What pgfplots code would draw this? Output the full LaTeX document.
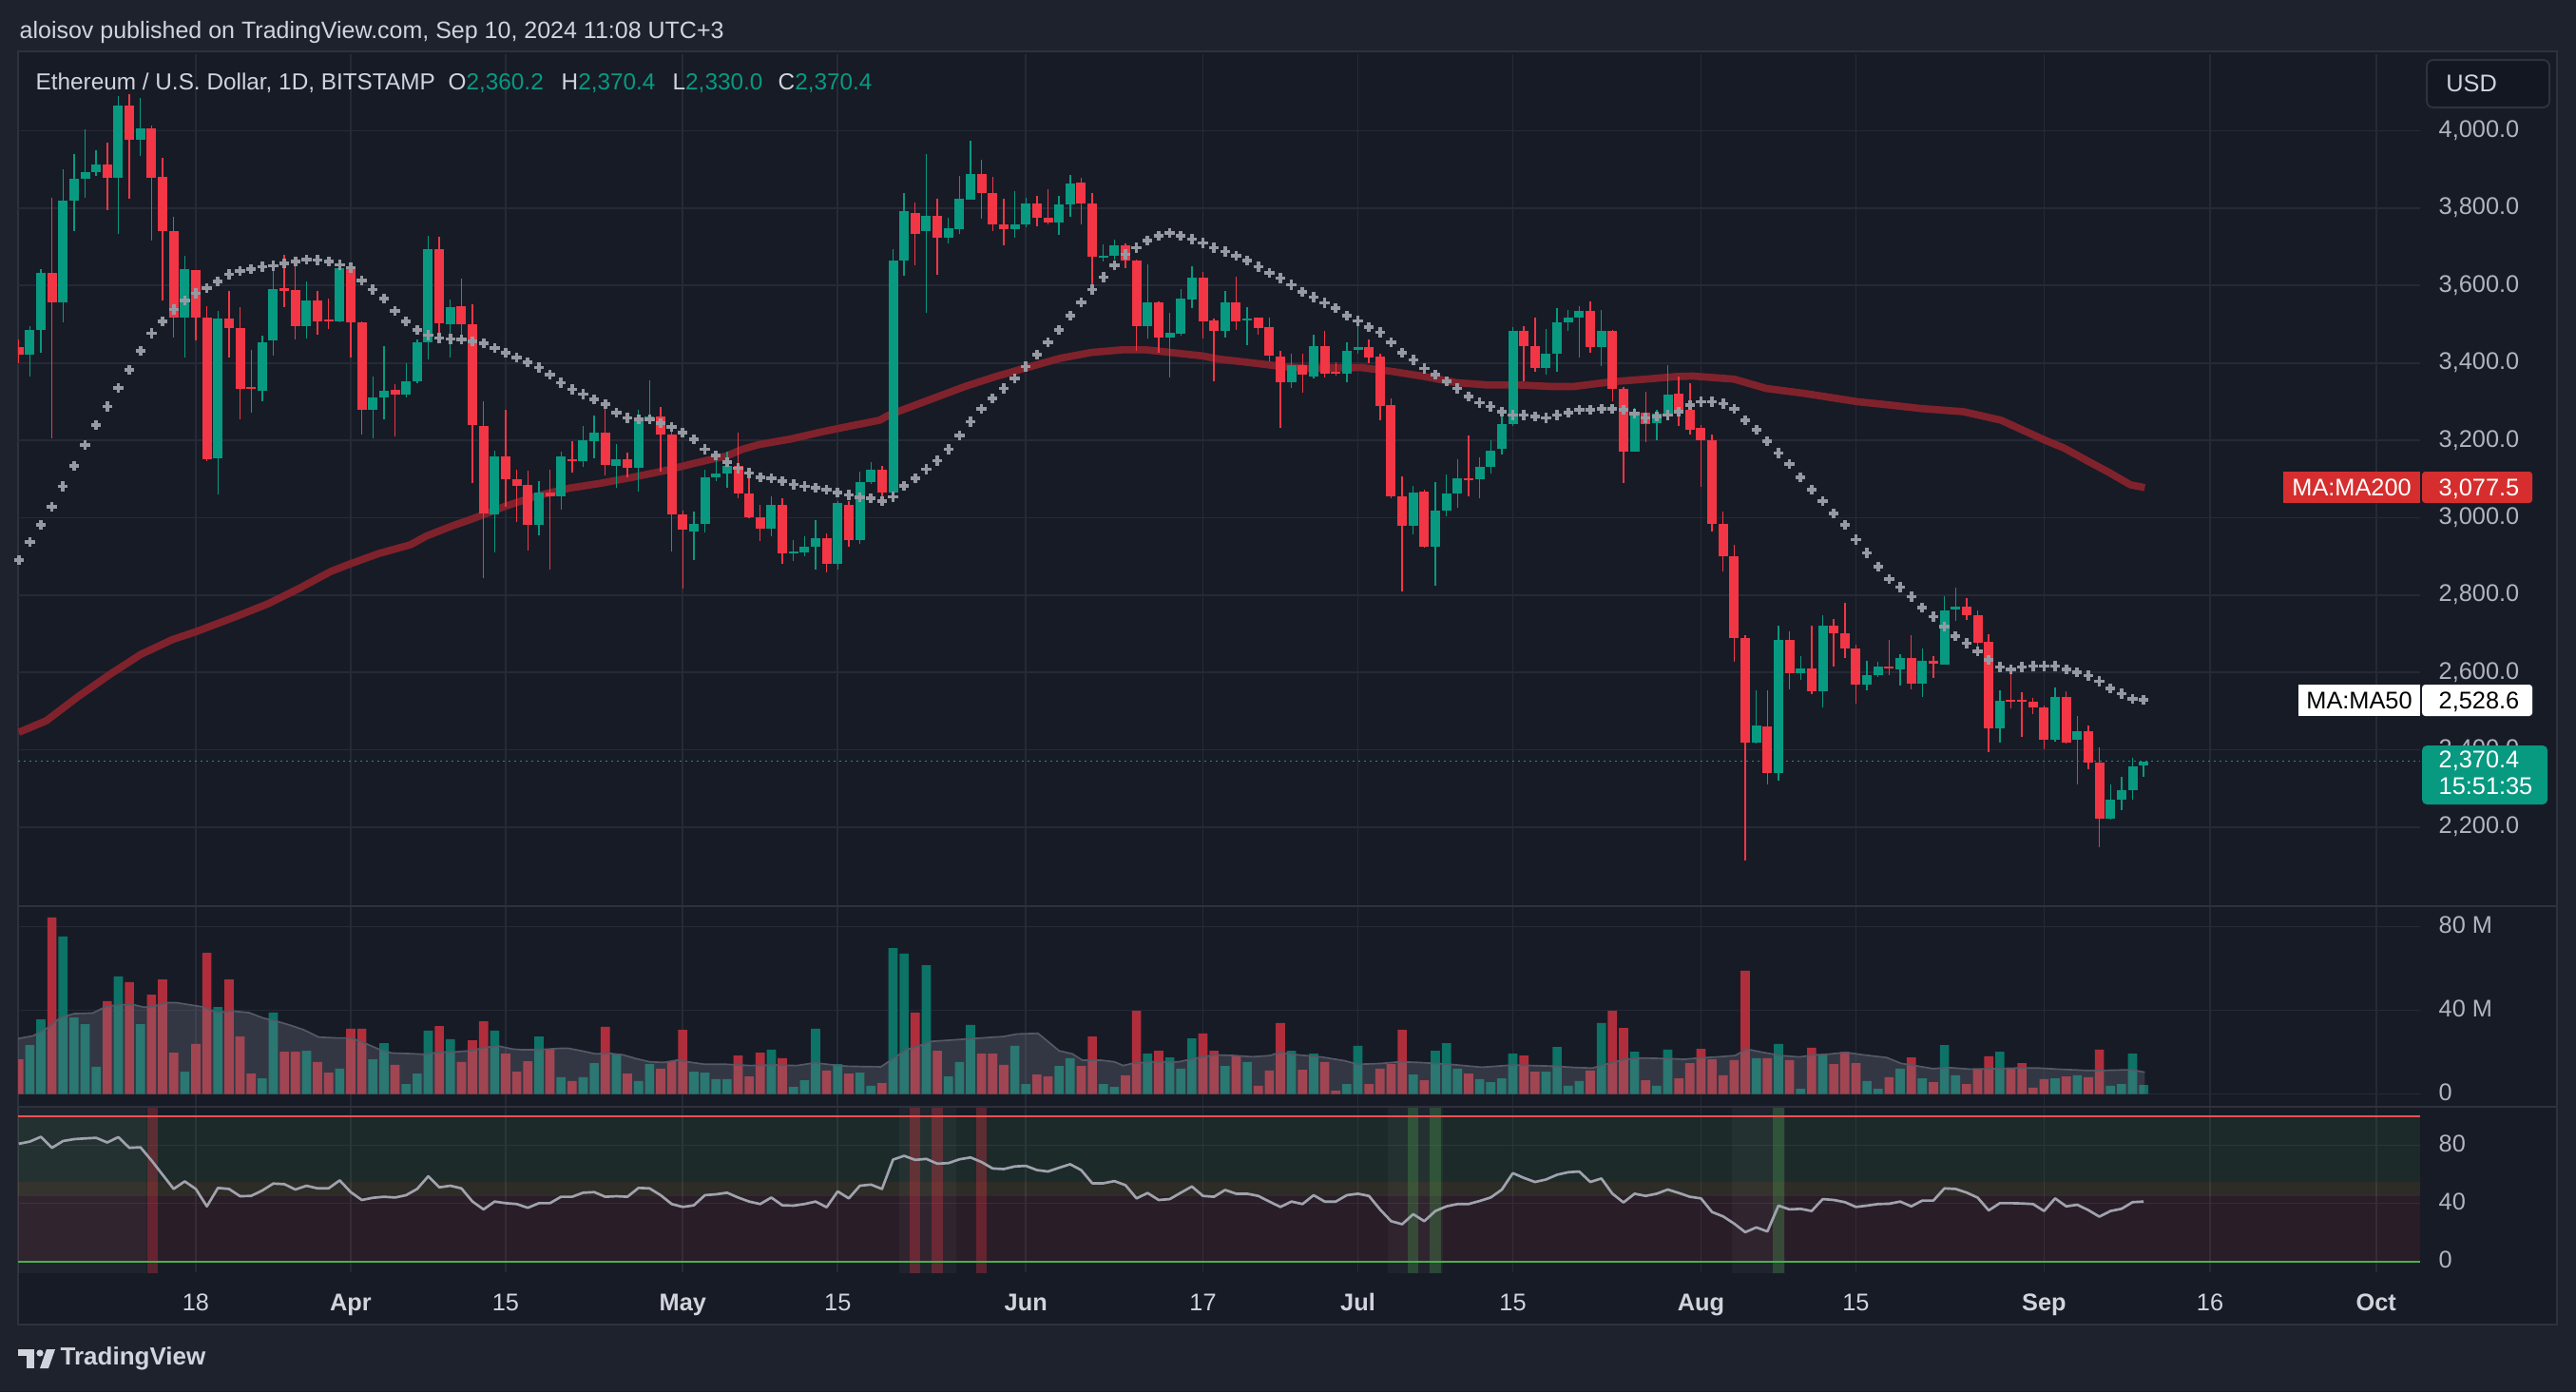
\documentclass[border=0pt]{standalone}
\usepackage{fontspec}
\setmainfont{Liberation Sans}
\usepackage{pgfplots}
\pgfplotsset{compat=1.18}
\usepackage{pgfplotstable}

\definecolor{bgout}{RGB}{30,34,45}
\definecolor{bgin}{RGB}{23,27,38}
\definecolor{bgdark}{RGB}{19,23,34}
\definecolor{gridc}{RGB}{38,42,54}
\definecolor{sepc}{RGB}{46,50,62}
\definecolor{tvgreen}{RGB}{8,153,129}
\definecolor{tvred}{RGB}{242,54,69}
\definecolor{volg}{RGB}{12,115,102}
\definecolor{volr}{RGB}{176,46,60}
\definecolor{ma50c}{RGB}{150,153,162}
\definecolor{ma200c}{RGB}{128,34,44}
\definecolor{ma200lab}{RGB}{214,46,46}
\definecolor{labc}{RGB}{178,181,190}
\definecolor{txtc}{RGB}{209,212,220}
\definecolor{rsig}{RGB}{76,175,80}
\definecolor{rsiy}{RGB}{255,200,40}
\definecolor{rsitop}{RGB}{242,80,80}
\definecolor{rsiline}{RGB}{160,163,173}
\definecolor{volmac}{RGB}{125,130,145}
\definecolor{volmaline}{RGB}{85,89,102}

\newcommand\tvfont{\fontsize{7.6pt}{9pt}\selectfont}
\newcommand\hfont{\fontsize{7.5pt}{9pt}\selectfont}
\newcommand\lfont{\fontsize{7.3pt}{9pt}\selectfont}

% green candles: day index (0 = 18 Mar 2024), open, high, low, close, volume (M)
\pgfplotstableread{
d o h l c v
-15 3421 3495 3365 3486 23.4
-14 3485 3642 3427 3632 35.7
-12 3557 3900 3505 3820 75.3
-11 3820 3939 3740 3876 36.6
-10 3875 4003 3828 3893 33.4
-9 3893 3950 3883 3913 13.0
-7 3879 4091 3733 4065 56.2
-5 3978 4085 3935 4006 33.4
-1 3518 3677 3413 3642 10.7
2 3154 3534 3060 3514 41.6
6 3327 3470 3302 3453 7.5
7 3457 3662 3418 3591 38.9
10 3496 3610 3464 3561 20.7
13 3507 3655 3505 3646 12.1
16 3278 3366 3206 3310 16.6
17 3310 3444 3253 3327 24.3
19 3319 3399 3310 3352 4.8
20 3352 3460 3347 3453 9.8
21 3453 3729 3410 3694 30.3
23 3501 3564 3414 3544 26.2
27 3008 3174 2909 3158 30.3
31 2981 3095 2955 3065 27.5
33 3056 3170 3020 3158 8.0
35 3147 3236 3131 3200 8.0
36 3198 3263 3154 3219 14.8
38 3134 3190 3076 3151 19.3
40 3128 3278 3068 3252 6.2
41 3253 3354 3242 3261 14.3
45 2965 3015 2891 2985 10.7
46 2985 3125 2961 3104 10.2
47 3104 3167 3095 3115 7.1
48 3115 3170 3076 3134 7.1
52 2972 3056 2952 3034 21.2
54 2907 2943 2887 2912 3.4
55 2909 2951 2900 2926 6.6
56 2926 2994 2865 2948 31.2
58 2881 3042 2865 3037 14.3
60 2943 3118 2933 3092 10.2
61 3092 3144 3086 3124 3.9
63 3065 3693 3047 3664 69.8
64 3664 3840 3625 3792 67.1
66 3740 3941 3529 3781 61.6
68 3724 3775 3710 3749 8.4
69 3746 3883 3733 3824 15.3
70 3822 3974 3822 3889 33.0
74 3746 3844 3723 3757 23.0
75 3757 3828 3750 3811 4.8
78 3763 3831 3731 3809 13.4
79 3809 3887 3779 3863 17.1
82 3671 3707 3662 3677 4.8
83 3677 3720 3668 3704 3.4
86 3496 3655 3464 3557 19.3
88 3466 3529 3362 3479 17.5
89 3475 3590 3470 3567 12.1
90 3564 3649 3541 3620 26.6
93 3482 3586 3466 3557 13.4
95 3510 3544 3447 3514 15.3
99 3349 3425 3336 3395 20.7
101 3366 3473 3360 3444 19.3
104 3371 3453 3349 3430 4.8
105 3434 3514 3425 3440 23.0
110 2978 3081 2956 3065 9.3
112 2926 3091 2825 3017 20.7
113 3017 3111 3004 3063 24.3
114 3063 3151 3026 3102 12.1
116 3099 3157 3050 3132 7.1
117 3132 3200 3115 3174 5.7
118 3177 3269 3164 3242 7.5
119 3242 3492 3236 3483 19.3
122 3386 3488 3369 3423 10.7
123 3423 3541 3378 3505 22.5
124 3505 3538 3482 3516 3.9
125 3518 3547 3414 3534 6.2
127 3440 3538 3392 3482 33.9
130 3171 3284 3170 3271 20.2
132 3245 3280 3200 3269 3.9
133 3269 3395 3252 3317 21.2
141 2419 2553 2416 2462 17.1
143 2341 2722 2321 2685 23.9
145 2597 2643 2581 2610 2.5
147 2551 2748 2510 2722 18.9
151 2568 2630 2553 2592 6.2
152 2592 2627 2588 2614 2.5
154 2608 2646 2566 2637 12.1
156 2571 2663 2536 2630 7.5
158 2620 2796 2620 2761 23.4
159 2763 2819 2734 2770 8.9
163 2455 2553 2419 2527 20.2
168 2425 2562 2422 2536 7.5
170 2425 2488 2311 2447 8.9
173 2221 2311 2220 2272 3.9
174 2272 2331 2243 2295 4.8
175 2295 2380 2272 2357 19.3
176 2360.2 2370.4 2330.0 2370.4 4.3
}\greentab

% red candles
\pgfplotstableread{
d o h l c v
-16 3440 3460 3400 3421 16.6
-13 3632 3827 3206 3557 84.4
-8 3913 3970 3796 3879 44.4
-6 4065 4095 3824 3978 53.5
-4 4006 4013 3717 3879 47.5
-3 3880 3931 3561 3742 54.8
-2 3742 3779 3466 3518 19.8
0 3639 3640 3457 3518 23.9
1 3518 3547 3147 3151 67.5
3 3515 3586 3413 3491 54.8
4 3491 3544 3253 3334 27.5
5 3339 3434 3271 3334 9.8
8 3593 3680 3544 3586 20.2
9 3588 3664 3460 3496 20.2
11 3561 3586 3473 3508 15.3
12 3512 3567 3488 3508 10.2
14 3645 3653 3414 3505 31.2
15 3505 3508 3214 3278 31.2
18 3330 3344 3211 3319 13.9
22 3694 3727 3453 3503 32.5
24 3547 3619 3473 3501 15.3
25 3501 3551 3089 3239 25.7
26 3236 3301 2844 3011 34.8
28 3158 3278 3028 3099 19.3
29 3099 3125 2989 3082 10.7
30 3085 3121 2916 2981 15.7
32 3065 3125 2865 3056 21.6
34 3151 3197 3116 3147 6.2
37 3219 3291 3108 3137 32.1
39 3151 3167 3104 3128 9.8
42 3261 3287 3118 3215 12.1
43 3216 3248 2913 3008 15.7
44 3008 3017 2816 2969 30.7
49 3134 3219 3050 3063 18.4
50 3063 3128 2998 3002 8.4
51 3002 3034 2939 2972 19.8
53 3034 3050 2881 2907 17.1
57 2948 2959 2859 2881 11.2
59 3033 3042 2926 2943 9.8
62 3124 3134 3052 3065 5.2
65 3788 3814 3652 3733 38.9
67 3781 3824 3629 3724 20.7
71 3889 3926 3772 3840 19.3
72 3840 3880 3742 3759 19.3
73 3759 3824 3703 3746 13.9
76 3811 3833 3753 3776 9.3
77 3776 3848 3759 3763 8.4
80 3866 3879 3759 3811 13.4
81 3811 3840 3583 3675 27.5
84 3704 3710 3646 3664 8.9
85 3664 3668 3430 3496 39.8
87 3557 3560 3427 3466 20.7
91 3620 3635 3464 3508 28.9
92 3509 3514 3352 3482 20.7
94 3557 3622 3486 3508 18.0
96 3516 3518 3473 3490 3.9
97 3492 3516 3405 3418 11.2
98 3417 3431 3232 3349 33.9
100 3395 3423 3323 3369 11.6
102 3444 3483 3362 3371 15.3
103 3378 3401 3367 3373 1.6
106 3440 3460 3399 3414 4.8
107 3417 3425 3252 3288 12.1
108 3291 3308 3050 3054 14.3
109 3056 3106 2809 2978 30.7
111 3067 3072 2922 2926 6.6
115 3102 3213 3056 3099 9.8
120 3483 3495 3352 3443 18.4
121 3444 3516 3378 3386 10.7
126 3535 3560 3427 3440 11.2
128 3483 3486 3300 3334 39.8
129 3334 3339 3089 3171 31.6
131 3271 3326 3196 3242 6.6
134 3321 3365 3236 3278 7.5
135 3280 3347 3215 3228 14.8
136 3232 3239 3079 3200 21.6
137 3200 3215 2965 2985 16.6
138 2985 3015 2860 2900 8.9
139 2900 2930 2627 2689 16.2
140 2688 2695 2113 2419 58.9
142 2460 2553 2311 2341 17.1
144 2685 2705 2555 2597 16.2
146 2610 2721 2545 2551 22.1
148 2722 2737 2614 2702 14.3
149 2702 2779 2636 2662 20.2
150 2662 2672 2519 2568 14.8
153 2614 2685 2594 2610 8.0
155 2637 2696 2555 2571 17.5
157 2630 2643 2585 2623 5.7
160 2770 2792 2735 2747 4.8
161 2748 2761 2666 2676 11.6
162 2679 2699 2395 2455 18.0
164 2529 2597 2506 2525 12.5
165 2528 2549 2432 2525 14.8
166 2525 2533 2493 2510 3.0
167 2510 2514 2402 2425 7.1
169 2536 2551 2415 2419 8.4
171 2449 2462 2350 2367 8.0
172 2367 2406 2149 2221 21.2
}\redtab

% MA 50
\pgfplotstableread{
d p
-16 2891
-15 2937
-14 2981
-13 3028
-12 3081
-11 3134
-10 3188
-9 3239
-8 3287
-7 3335
-6 3382
-5 3431
-4 3477
-3 3508
-2 3538
-1 3561
0 3580
1 3593
2 3610
3 3629
4 3638
5 3643
6 3649
7 3651
8 3658
9 3662
10 3667
11 3666
12 3662
13 3654
14 3646
15 3613
16 3590
17 3567
18 3535
19 3508
20 3485
21 3472
22 3464
23 3462
24 3460
25 3456
26 3451
27 3438
28 3427
29 3414
30 3401
31 3388
32 3369
33 3349
34 3332
35 3319
36 3306
37 3294
38 3271
39 3258
40 3255
41 3255
42 3245
43 3235
44 3219
45 3202
46 3177
47 3160
48 3144
49 3128
50 3115
51 3105
52 3102
53 3094
54 3086
55 3081
56 3078
57 3072
58 3065
59 3059
60 3052
61 3050
62 3043
63 3054
64 3082
65 3102
66 3125
67 3147
68 3177
69 3213
70 3248
71 3282
72 3308
73 3334
74 3360
75 3391
76 3421
77 3453
78 3486
79 3522
80 3557
81 3590
82 3622
83 3652
84 3681
85 3698
86 3716
87 3729
88 3736
89 3729
90 3720
91 3710
92 3698
93 3688
94 3677
95 3664
96 3649
97 3633
98 3619
99 3602
100 3583
101 3570
102 3555
103 3541
104 3522
105 3509
106 3492
107 3479
108 3453
109 3427
110 3408
111 3386
112 3369
113 3352
114 3334
115 3314
116 3297
117 3287
118 3274
119 3265
120 3265
121 3262
122 3258
123 3265
124 3271
125 3278
126 3278
127 3282
128 3282
129 3278
130 3269
131 3258
132 3262
133 3265
134 3274
135 3291
136 3300
137 3300
138 3295
139 3282
140 3252
141 3227
142 3197
143 3167
144 3138
145 3104
146 3072
147 3043
148 3011
149 2981
150 2943
151 2909
152 2874
153 2842
154 2820
155 2796
156 2767
157 2744
158 2718
159 2694
160 2675
161 2655
162 2633
163 2614
164 2607
165 2614
166 2616
167 2616
168 2616
169 2607
170 2601
171 2592
172 2577
173 2559
174 2545
175 2532
176 2528.6
}\matab

% MA 200
\pgfplotstableread{
d p
-16 2445
-13.5 2475
-10.7 2536
-7.8 2594
-5 2646
-2.1 2685
0 2705
3.6 2744
6.5 2777
9.4 2818
12.2 2861
14 2881
16.5 2907
19.4 2930
20.8 2952
23.1 2978
25.1 2998
28 3030
30.8 3056
33.7 3076
36.6 3089
39.4 3104
42.3 3121
45.1 3141
48 3160
49.4 3177
50.9 3189
53.7 3203
56.6 3222
59.5 3239
61.8 3252
62.6 3265
63.8 3278
66.6 3308
69.5 3339
72.3 3365
75.1 3388
78.1 3412
80.9 3427
83.8 3434
85.8 3434
88.1 3427
91 3418
92.4 3410
95.2 3401
98.1 3391
100.4 3386
105.3 3388
108.1 3378
111 3365
113.9 3349
116.7 3343
119.6 3343
122.5 3339
124.5 3339
126.7 3347
128.2 3352
131 3358
133.9 3365
135.3 3366
139 3358
141.9 3334
145.4 3321
150.1 3300
153.1 3291
155.9 3282
159.7 3274
163.1 3252
167.1 3200
168.8 3180
171.1 3144
172.8 3118
174.8 3085
176.1 3077.5
}\mbtab

% volume moving average (M)
\pgfplotstableread{
d v
-16.06 26.5
-14.7 27.8
-13.5 31.3
-12.2 36.6
-11.0 38.4
-9.3 38.7
-8.1 41.9
-6.8 42.7
-5.6 42.7
-4.7 41.5
-3.9 41.8
-2.7 43.7
-1.8 43.7
-0.6 42.7
0.7 41.6
1.9 38.9
3.2 39.7
4.8 38.9
6.1 36.3
7.3 34.8
8.6 32.8
9.8 30.6
11.1 27.2
12.7 26.8
14.0 26.8
15.2 24.5
16.5 21.5
17.7 19.6
19.4 19.3
20.6 19.0
21.9 19.9
23.6 20.2
24.8 20.7
26.1 22.2
27.3 23.0
28.6 21.5
29.4 21.2
31.1 21.2
32.7 21.8
33.6 21.9
34.8 20.7
36.1 19.2
37.3 19.5
38.6 18.7
39.8 16.9
41.0 15.4
42.3 15.1
43.5 16.2
44.8 15.1
46.0 14.2
48.0 14.2
50.1 13.6
52.2 13.9
54.3 13.6
55.9 14.9
57.6 13.9
58.8 13.3
60.5 13.1
61.9 13.0
63.0 16.9
64.2 21.2
65.5 23.3
66.3 25.1
68.8 26.0
71.3 26.9
73.0 27.5
74.2 28.7
76.1 29.0
78.0 20.7
79.2 19.2
80.1 16.2
81.7 16.2
83.0 15.4
83.8 13.6
84.6 14.6
86.3 15.4
88.8 15.4
90.9 17.7
92.1 18.7
93.8 18.4
95.5 17.8
97.1 18.4
97.9 19.9
99.6 18.7
101.7 17.7
103.8 15.9
105.0 14.2
107.1 14.6
108.8 15.4
110.5 15.1
113.3 14.2
116.2 12.8
117.8 13.4
119.1 13.9
120.7 13.6
122.8 13.3
124.5 12.7
126.2 12.4
127.4 14.2
129.1 16.6
130.7 17.2
133.2 16.9
134.5 16.6
135.7 17.2
137.4 17.7
139.1 18.4
140.1 21.5
141.6 19.9
143.2 18.4
144.9 17.7
146.2 18.7
147.4 19.0
149.1 19.9
150.7 18.7
152.8 17.4
154.1 14.6
155.3 13.6
157.0 12.1
158.2 12.7
160.3 11.9
162.4 12.1
164.5 12.4
166.6 12.4
168.2 11.9
170.7 11.3
172.4 11.3
174.9 11.6
176.1 10.4
}\volma

% RSI
\pgfplotstableread{
d r
-16 81.1
-15 82.6
-14 85.9
-13 78.3
-12 83.0
-11 84.3
-10 84.8
-9 85.2
-8 82.0
-7 85.7
-6 78.3
-5 78.7
-4 69.6
-3 59.8
-2 50.0
-1 55.2
0 50.0
1 38.0
2 50.7
3 50.0
4 45.0
5 45.2
6 48.9
7 53.7
8 53.3
9 49.6
10 52.2
11 50.4
12 50.4
13 55.9
14 47.8
15 42.4
16 43.9
17 44.6
18 44.1
19 45.7
20 50.0
21 58.7
22 51.1
23 52.2
24 50.4
25 41.3
26 35.9
27 41.3
28 40.2
29 39.6
30 37.0
31 40.2
32 40.2
33 44.6
34 44.6
35 47.4
36 47.8
37 44.6
38 45.0
39 44.6
40 50.7
41 50.4
42 45.7
43 39.6
44 37.6
45 38.7
46 45.7
47 46.3
48 47.4
49 44.1
50 41.3
51 39.6
52 44.1
53 38.7
54 38.5
55 39.6
56 41.3
57 37.4
58 48.3
59 43.5
60 52.2
61 53.0
62 50.0
63 70.2
64 72.8
65 70.0
66 70.7
67 67.4
68 67.8
69 70.4
70 71.7
71 68.5
72 64.1
73 63.7
74 65.5
75 65.9
76 63.0
77 62.0
78 64.6
79 67.0
80 63.0
81 53.9
82 53.9
83 55.4
84 52.6
85 43.5
86 47.2
87 42.4
88 43.0
89 47.4
90 51.7
91 45.2
92 44.6
93 49.3
94 46.7
95 46.7
96 45.2
97 41.3
98 37.6
99 41.3
100 39.6
101 45.7
102 41.3
103 41.3
104 45.7
105 46.7
106 45.2
107 35.9
108 27.8
109 25.7
110 32.6
111 27.8
112 34.8
113 38.0
114 39.6
115 39.6
116 41.7
117 44.1
118 49.5
119 60.9
120 57.6
121 54.8
122 56.5
123 59.8
124 61.5
125 62.0
126 54.8
127 57.2
128 46.7
129 40.7
130 46.7
131 45.2
132 46.7
133 49.6
134 47.2
135 44.6
136 43.5
137 34.1
138 31.1
139 26.1
140 20.2
141 23.5
142 20.7
143 38.5
144 35.9
145 36.3
146 34.8
147 43.0
148 42.4
149 40.9
150 37.6
151 38.5
152 39.6
153 39.8
154 41.3
155 38.0
156 42.0
157 42.0
158 50.4
159 50.0
160 47.5
161 44.0
162 35.2
163 40.2
164 40.2
165 40.0
166 39.6
167 34.8
168 43.5
169 38.0
170 39.1
171 35.4
172 30.9
173 34.8
174 36.3
175 40.9
176 41.3
}\rsitab

\pgfplotsset{
  tvbase/.style={
    scale only axis, width=758.1pt, anchor=north west,
    xmin=-16.06, xmax=200.98,
    axis line style={draw=none},
    major tick length=0pt,
    xtick={0,14,28,44,58,75,91,105,119,136,150,167,182,197},
    xmajorgrids, ymajorgrids,
    major grid style={draw=gridc, line width=0.5pt},
    xticklabels={},
    yticklabel pos=right,
    yticklabel style={anchor=base west, inner sep=0pt, xshift=5.7pt, yshift=-2.1pt, font=\tvfont, text=labc},
  },
  nomark/.style={only marks, mark=*, mark size=0pt, mark options={draw=none, fill=none, opacity=0}},
}

\newcommand\candles[2]{%
  \addplot[nomark, error bars/.cd, y dir=both, y explicit, error mark=none,
    error bar style={draw=#2, line width=0.42pt, opacity=1}]
    table[x=d, y expr={(\thisrow{h}+\thisrow{l})/2}, y error expr={(\thisrow{h}-\thisrow{l})/2}] {#1};
  \addplot[nomark, error bars/.cd, y dir=both, y explicit, error mark=none,
    error bar style={draw=#2, line width=3pt, opacity=1}]
    table[x=d, y expr={(\thisrow{o}+\thisrow{c})/2}, y error expr={max(abs(\thisrow{c}-\thisrow{o})/2,1.6)}] {#1};
}

\begin{document}
\begin{tikzpicture}
\path[use as bounding box] (0pt,0pt) rectangle (813pt,-439.2pt);
\fill[bgout] (0pt,0pt) rectangle (813pt,-439.2pt);
\begin{scope}[x=0.3pt,y=-0.3pt]
  \fill[bgin] (19,54) rectangle (2690,1393);
  \draw[sepc, line width=0.6pt] (19,54) rectangle (2690,1393);
\end{scope}

% ---------------- price panel ----------------
\begin{axis}[tvbase, at={(5.7pt,-17.1pt)}, height=268.8pt,
  ymin=1995.6, ymax=4198.1,
  ytick={2200,2400,2600,2800,3000,3200,3400,3600,3800,4000},
  yticklabels={{2,200.0},{2,400.0},{2,600.0},{2,800.0},{3,000.0},{3,200.0},{3,400.0},{3,600.0},{3,800.0},{4,000.0}}]
  \addplot[draw=tvgreen, line width=0.45pt, dash pattern=on 0.6pt off 1.2pt] coordinates {(-16.06,2370.4) (200.98,2370.4)};
  \addplot[draw=ma200c, line width=2.3pt, line join=round] table[x=d,y=p] {\mbtab};
  \candles{\greentab}{tvgreen}
  \candles{\redtab}{tvred}
  \addplot[only marks, mark=+, mark size=1.55pt, mark options={draw=ma50c, line width=1.1pt}] table[x=d,y=p] {\matab};
\end{axis}

% ---------------- volume panel ----------------
\begin{axis}[tvbase, at={(5.7pt,-285.9pt)}, height=63.15pt,
  ymin=-5.9, ymax=89.8, ytick={0,40,80}, yticklabels={0,40 M,80 M}]
  \addplot[ybar, bar width=0.83, bar shift=0pt, fill=volg, draw=none] table[x=d,y=v] {\greentab};
  \addplot[ybar, bar width=0.83, bar shift=0pt, fill=volr, draw=none] table[x=d,y=v] {\redtab};
  \addplot[draw=none, fill=volmac, fill opacity=0.28] table[x=d,y=v] {\volma} \closedcycle;
  \addplot[draw=volmaline, line width=0.5pt] table[x=d,y=v] {\volma};
\end{axis}

% ---------------- RSI panel ----------------
\begin{axis}[tvbase, at={(5.7pt,-349.05pt)}, height=52.35pt,
  ymin=-7.4, ymax=106.9, ytick={0,40,80}, yticklabels={0,40,80},
  xticklabels={18,\textbf{Apr},15,\textbf{May},15,\textbf{Jun},17,\textbf{Jul},15,\textbf{Aug},15,\textbf{Sep},16,\textbf{Oct}},
  xticklabel style={anchor=base, inner sep=0pt, yshift=-12pt, font=\tvfont, text=txtc}]
  \addplot[draw=none, fill=rsig, fill opacity=0.10] coordinates {(-16.06,55) (200.98,55) (200.98,100) (-16.06,100)} -- cycle;
  \addplot[draw=none, fill=rsiy, fill opacity=0.10] coordinates {(-16.06,45) (200.98,45) (200.98,55) (-16.06,55)} -- cycle;
  \addplot[draw=none, fill=tvred, fill opacity=0.085] coordinates {(-16.06,0) (200.98,0) (200.98,45) (-16.06,45)} -- cycle;
  \addplot[draw=none, fill=white, fill opacity=0.035] coordinates {(-16.06,-8) (-16.06,108) (-4.45,108) (-4.45,-8)} -- cycle;
  \addplot[draw=none, fill=white, fill opacity=0.035] coordinates {(63.6,-8) (63.6,108) (68.7,108) (68.7,-8)} -- cycle;
  \addplot[draw=none, fill=white, fill opacity=0.035] coordinates {(107.7,-8) (107.7,108) (112.7,108) (112.7,-8)} -- cycle;
  \addplot[draw=none, fill=white, fill opacity=0.035] coordinates {(138.8,-8) (138.8,108) (143.6,108) (143.6,-8)} -- cycle;
  \addplot[nomark, error bars/.cd, y dir=both, y explicit, error mark=none,
    error bar style={draw=tvred, opacity=1, draw opacity=0.3, line width=3.4pt}]
    coordinates {(-3.9,50) +- (0,58) (65,50) +- (0,58) (67,50) +- (0,58) (71,50) +- (0,58)};
  \addplot[nomark, error bars/.cd, y dir=both, y explicit, error mark=none,
    error bar style={draw=rsig, opacity=1, draw opacity=0.28, line width=3.4pt}]
    coordinates {(110,50) +- (0,58) (112,50) +- (0,58) (143,50) +- (0,58)};
  \addplot[draw=rsitop, line width=0.6pt] coordinates {(-16.06,100) (200.98,100)};
  \addplot[draw=rsig, line width=0.6pt] coordinates {(-16.06,0) (200.98,0)};
  \addplot[draw=rsiline, line width=0.8pt, line join=round] table[x=d,y=r] {\rsitab};
\end{axis}

\begin{scope}[x=0.3pt,y=-0.3pt]
  % panel separators
  \draw[sepc, line width=0.6pt] (19,953) -- (2690,953);
  \draw[sepc, line width=0.6pt] (19,1163.5) -- (2690,1163.5);
  % header
  \node[anchor=base west, inner sep=0pt, text=txtc, font=\hfont] at (20,40) {aloisov published on TradingView.com, Sep 10, 2024 11:08 UTC+3};
  \node[anchor=base west, inner sep=0pt, text=txtc, font=\lfont] at (37,94) {Ethereum / U.S. Dollar, 1D, BITSTAMP};
  \node[anchor=base west, inner sep=0pt, text=txtc, font=\lfont] at (471,94) {O\textcolor{tvgreen}{2,360.2}};
  \node[anchor=base west, inner sep=0pt, text=txtc, font=\lfont] at (590,94) {H\textcolor{tvgreen}{2,370.4}};
  \node[anchor=base west, inner sep=0pt, text=txtc, font=\lfont] at (707,94) {L\textcolor{tvgreen}{2,330.0}};
  \node[anchor=base west, inner sep=0pt, text=txtc, font=\lfont] at (818,94) {C\textcolor{tvgreen}{2,370.4}};
  % USD box
  \draw[sepc, fill=bgdark, line width=0.6pt, rounded corners=2pt] (2553,63) rectangle (2682,113);
  \node[anchor=base, inner sep=0pt, text=txtc, font=\tvfont] at (2600,96) {USD};
  % MA200 label
  \fill[ma200lab] (2402,496) rectangle (2546,529);
  \fill[ma200lab, rounded corners=1pt] (2548,496) rectangle (2664,529);
  \node[anchor=base, inner sep=0pt, text=white, font=\tvfont] at (2474,521) {MA:MA200};
  \node[anchor=base west, inner sep=0pt, text=white, font=\tvfont] at (2565,521) {3,077.5};
  % MA50 label
  \fill[white] (2418,720) rectangle (2546,753);
  \fill[white, rounded corners=1pt] (2548,720) rectangle (2664,753);
  \node[anchor=base, inner sep=0pt, text=black, font=\tvfont] at (2482,745) {MA:MA50};
  \node[anchor=base west, inner sep=0pt, text=black, font=\tvfont] at (2565,745) {2,528.6};
  % last price
  \fill[tvgreen, rounded corners=1.5pt] (2548,784) rectangle (2680,846);
  \node[anchor=base west, inner sep=0pt, text=white, font=\tvfont] at (2565,807) {2,370.4};
  \node[anchor=base west, inner sep=0pt, text=white, font=\tvfont] at (2565,835) {15:51:35};
  % logo
  \fill[txtc] (19,1419) rectangle (36,1426);
  \fill[txtc] (28,1419) rectangle (36,1439);
  \fill[txtc] (42,1423) circle (3.6);
  \fill[txtc] (49,1419) -- (58,1419) -- (51,1439) -- (42,1439) -- cycle;
  \node[anchor=west, inner sep=0pt, text=txtc, font=\fontsize{7.8pt}{9pt}\selectfont\bfseries] at (63,1429) {TradingView};
\end{scope}
\end{tikzpicture}
\end{document}
